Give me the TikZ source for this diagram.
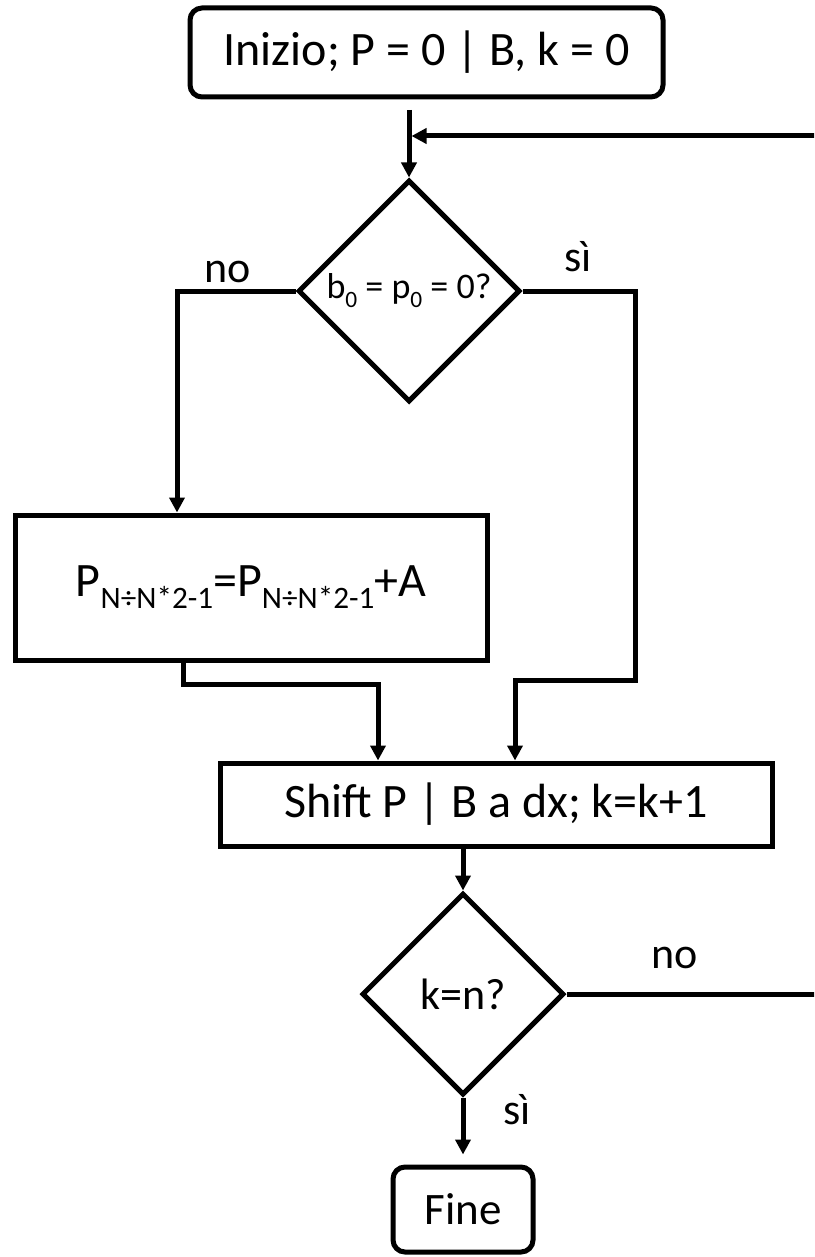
\documentclass[tikz,border=0pt]{standalone}
\usepackage{fontspec}
\setmainfont{Carlito}
\usetikzlibrary{shapes.geometric,arrows.meta}
\newcommand{\lowsub}[1]{\raisebox{-0.25em}{\scalebox{0.65}{#1}}}
\begin{document}
\begin{tikzpicture}[x=1pt,y=-1pt,line width=5pt,
        box/.style={draw,rectangle,inner sep=0pt},
        startstop/.style={box,rounded corners=12pt},
        decision/.style={draw,diamond,aspect=1,inner sep=0pt},
        arr/.style={-{Triangle[width=15pt,length=15pt]}},
        lbl/.style={font=\fontsize{44}{50}\selectfont}]
                \useasboundingbox (0,0) rectangle (814,1257);
                \clip (0,0) rectangle (814,1257);
                \node[startstop,minimum width=473pt,minimum height=89pt,font=\fontsize{48}{58}\selectfont] (start) at (426.5,52.5) {Inizio; P = 0 | B, k = 0};
                \node[decision,minimum size=222pt,font=\fontsize{36}{42}\selectfont] (test) at (409,291) {b\lowsub{0} = p\lowsub{0} = 0?};
                \node[box,minimum width=472pt,minimum height=145pt,font=\fontsize{48}{58}\selectfont] (add) at (251,587.5) {P\lowsub{N÷N*2-1}=P\lowsub{N÷N*2-1}+A};
                \node[box,minimum width=552pt,minimum height=83pt,font=\fontsize{48}{58}\selectfont] (shift) at (496,804.5) {Shift P | B a dx; k=k+1};
                \node[decision,minimum size=202pt,font=\fontsize{44}{50}\selectfont] (loop) at (463,994) {k=n?};
                \node[startstop,minimum width=140pt,minimum height=85pt,font=\fontsize{45}{52}\selectfont] (fine) at (463,1209.5) {Fine};
                \coordinate (entry) at (409,110);
                \coordinate (merge) at (409,136);
                \draw[arr] (entry) -- (test.north);
                \draw[arr] (test.west) -| ([xshift=-74pt]add.north);
                \draw[arr] (test.east) -| (635,680) -| ([xshift=19pt]shift.north);
                \draw[arr] ([xshift=-68pt]add.south) -- ++(0,22) -| ([xshift=-118pt]shift.north);
                \draw[arr] (shift.south -| loop.north) -- (loop.north);
                \draw[arr,shorten >=10pt] (loop.south) -- (fine.north);
                \draw[arr,shorten >=2.5pt] (loop.east) -- (850,994) |- (merge);
                \node[lbl] (no1) at (228,272) {no};
                \node[lbl] (si1) at (578,257) {sì};
                \node[lbl] (no2) at (675,958) {no};
                \node[lbl] (si2) at (517,1110) {sì};
\end{tikzpicture}
\end{document}
